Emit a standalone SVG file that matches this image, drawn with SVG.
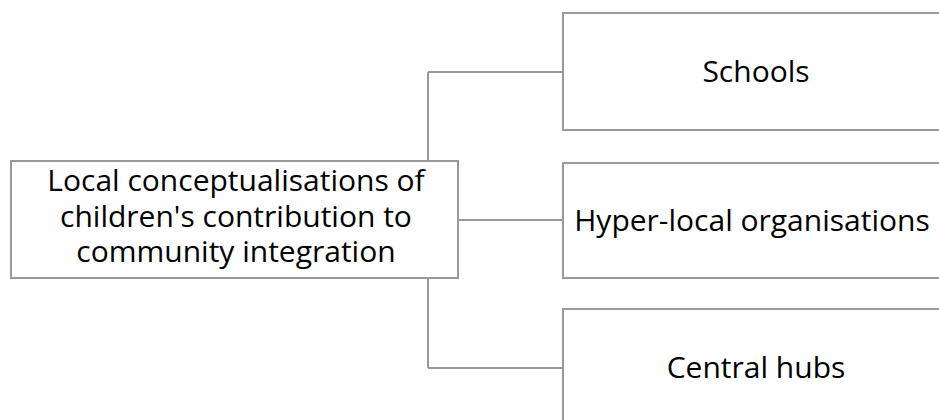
<svg xmlns="http://www.w3.org/2000/svg" width="939" height="420" viewBox="0 0 939 420">
<style>
.box{fill:#fff;stroke:#999;stroke-width:2}
.conn{fill:none;stroke:#999;stroke-width:2}
text{font-family:"Open Sans","Liberation Sans",sans-serif;font-size:30px;fill:#000;text-anchor:middle}
</style>
<rect width="939" height="420" fill="#fff"/>
<g id="connectors">
<path class="conn" d="M428 72 V368"/>
<path class="conn" d="M428 72 H563"/>
<path class="conn" d="M458 220 H563"/>
<path class="conn" d="M428 368 H563"/>
</g>
<g id="root">
<rect class="box" x="11" y="161" width="447" height="117"/>
<text x="236" y="191">Local conceptualisations of</text>
<text x="236" y="227">children's contribution to</text>
<text x="236" y="262">community integration</text>
</g>
<g id="schools">
<rect class="box" x="563" y="13" width="386" height="117"/>
<text x="756" y="82">Schools</text>
</g>
<g id="hyperlocal">
<rect class="box" x="563" y="163" width="386" height="115"/>
<text x="752" y="231">Hyper-local organisations</text>
</g>
<g id="hubs">
<rect class="box" x="563" y="309" width="386" height="118"/>
<text x="756" y="378">Central hubs</text>
</g>
</svg>
